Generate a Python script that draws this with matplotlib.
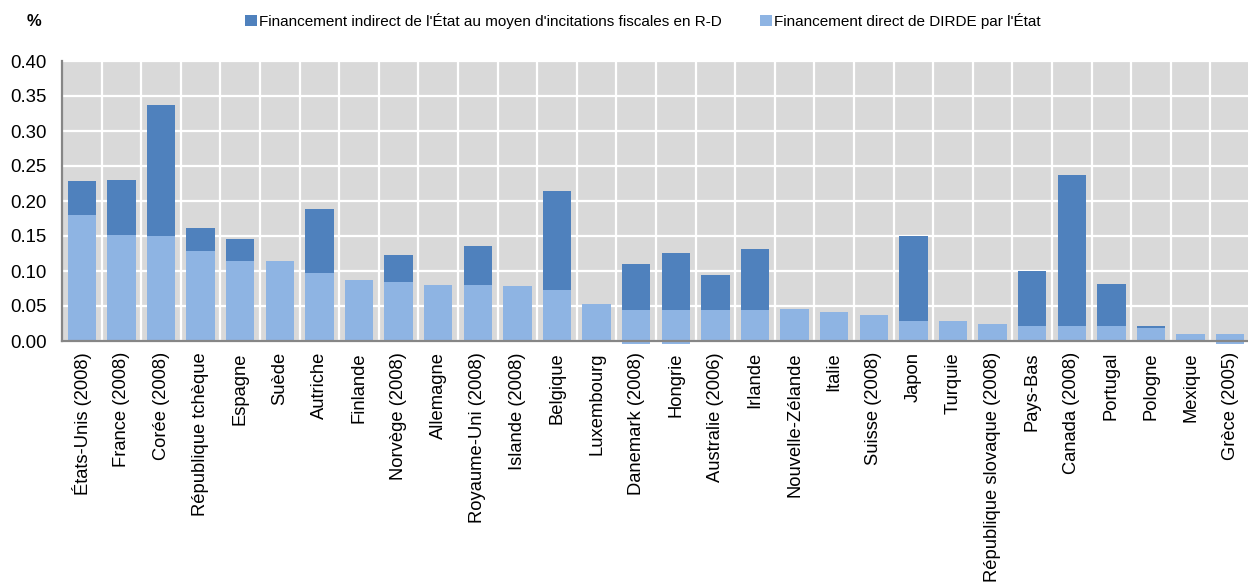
import matplotlib
matplotlib.use("Agg")
import matplotlib.pyplot as plt
from matplotlib.patches import Patch
import numpy as np

plt.rcParams["font.family"] = ["Liberation Sans", "DejaVu Sans"]

countries = [
    "États-Unis (2008)", "France (2008)", "Corée (2008)", "République tchèque",
    "Espagne", "Suède", "Autriche", "Finlande", "Norvège (2008)", "Allemagne",
    "Royaume-Uni (2008)", "Islande (2008)", "Belgique", "Luxembourg",
    "Danemark (2008)", "Hongrie", "Australie (2006)", "Irlande",
    "Nouvelle-Zélande", "Italie", "Suisse (2008)", "Japon", "Turquie",
    "République slovaque (2008)", "Pays-Bas", "Canada (2008)", "Portugal",
    "Pologne", "Mexique", "Grèce (2005)",
]

# Direct government funding of BERD (% of GDP)
direct = [
    0.180, 0.151, 0.150, 0.128, 0.114, 0.114, 0.097, 0.087, 0.084, 0.080,
    0.080, 0.078, 0.073, 0.053, 0.044, 0.044, 0.045, 0.045, 0.046, 0.041,
    0.037, 0.028, 0.028, 0.025, 0.021, 0.021, 0.021, 0.019, 0.010, 0.010,
]

# Indirect government funding through R&D tax incentives (% of GDP)
indirect = [
    0.048, 0.079, 0.187, 0.034, 0.031, 0.000, 0.091, 0.000, 0.039, 0.000,
    0.056, 0.000, 0.141, 0.000, 0.066, 0.082, 0.050, 0.086, 0.000, 0.000,
    0.000, 0.122, 0.000, 0.000, 0.079, 0.216, 0.061, 0.003, 0.000, 0.000,
]

# Small negative components shown below the axis
negative = [
    0.0, 0.0, 0.0, 0.0, 0.0, 0.0, 0.0, 0.0, 0.0, 0.0,
    0.0, 0.0, 0.0, 0.0, -0.004, -0.004, 0.0, 0.0, 0.0, 0.0,
    0.0, 0.0, 0.0, 0.0, 0.0, 0.0, 0.0, 0.0, 0.0, -0.004,
]

yticks = [0.00, 0.05, 0.10, 0.15, 0.20, 0.25, 0.30, 0.35, 0.40]

label_indirect = "Financement indirect de l'État au moyen d'incitations fiscales en R-D"
label_direct = "Financement direct de DIRDE par l'État"

c_dark = "#4F81BD"
c_light = "#8EB4E3"
bg = "#D9D9D9"

fig = plt.figure(figsize=(12.48, 5.82), dpi=100)
ax = fig.add_axes([62 / 1248, 241 / 582, 1188 / 1248, 280 / 582])
ax.set_facecolor(bg)

x = np.arange(len(countries))
w = 0.72
ax.bar(x, direct, width=w, color=c_light, zorder=3, clip_on=False)
ax.bar(x, indirect, width=w, bottom=direct, color=c_dark, zorder=3, clip_on=False)
ax.bar(x, negative, width=w, color=c_light, zorder=3, clip_on=False)

ax.set_xlim(-0.5, len(countries) - 0.5)
ax.set_ylim(0, 0.40)
ax.set_yticks(yticks)
ax.set_yticklabels([f"{v:.2f}" for v in yticks], fontsize=13.4)
ax.set_xticks(x)
ax.set_xticklabels(countries, rotation=90, fontsize=13.2)
ax.set_xticks(x[:-1] + 0.5, minor=True)
ax.tick_params(axis="x", which="both", length=0, pad=8)
ax.tick_params(axis="y", length=0, pad=11)

ax.grid(axis="y", which="major", color="white", linewidth=1.6, zorder=1)
ax.grid(axis="x", which="minor", color="white", linewidth=1.6, zorder=1)
ax.set_axisbelow(True)

for side in ("top", "right"):
    ax.spines[side].set_visible(False)
for side in ("left", "bottom"):
    ax.spines[side].set_color("#868686")
    ax.spines[side].set_linewidth(1.6)
    ax.spines[side].set_zorder(5)

handles = [Patch(facecolor=c_dark, edgecolor="none"), Patch(facecolor=c_light, edgecolor="none")]
fig.legend(handles, [label_indirect, label_direct], loc="center",
           bbox_to_anchor=(643 / 1248, 1 - 21 / 582), ncol=2, frameon=False,
           fontsize=11, handlelength=0.75, handleheight=0.75,
           handletextpad=0.15, columnspacing=2.5, borderpad=0)

fig.text(27 / 1248, 1 - 21 / 582, "%", fontsize=12, fontweight="bold",
         ha="left", va="center")

fig.savefig("out.png", dpi=100)
